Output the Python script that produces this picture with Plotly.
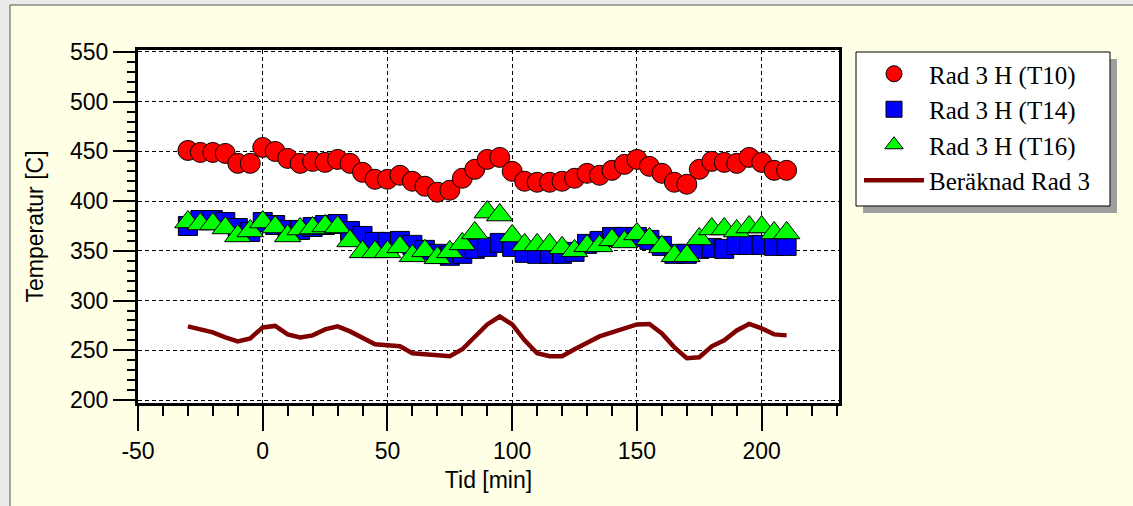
import plotly.graph_objects as go

# ---- data ----
tid = [-30, -25, -20, -15, -10, -5, 0, 5, 10, 15, 20, 25, 30, 35, 40, 45, 50, 55, 60,
       65, 70, 75, 80, 85, 90, 95, 100, 105, 110, 115, 120, 125, 130, 135, 140, 145,
       150, 155, 160, 165, 170, 175, 180, 185, 190, 195, 200, 205, 210]

t10 = [451, 449, 449, 448, 438, 438, 454, 450, 443, 438, 440, 439, 442, 438, 429, 422,
       422, 426, 420, 415, 409, 411, 423, 432, 442, 444, 430, 420, 419, 419, 420, 423,
       428, 426, 431, 437, 442, 435, 428, 419, 417, 432, 440, 439, 438, 444, 439, 431, 431]

t14 = [375, 381, 381, 379, 373, 369, 379, 376, 371, 371, 374, 376, 377, 370, 365, 359,
       359, 360, 356, 351, 347, 345, 347, 352, 354, 358, 354, 348, 347, 347, 347, 349,
       357, 360, 364, 364, 364, 361, 355, 347, 347, 352, 353, 352, 356, 356, 356, 355, 355]

t16 = [379, 377, 377, 373, 365, 370, 379, 374, 365, 372, 373, 375, 374, 360, 349, 349,
       349, 354, 345, 350, 343, 349, 357, 368, 389, 386, 365, 356, 356, 356, 353, 350,
       355, 355, 361, 359, 367, 362, 354, 345, 345, 362, 372, 372, 370, 374, 374, 368, 368]

berakn = [274, 271, 268, 263, 259, 262, 273, 274.5, 266, 263, 265, 271, 274, 269, 262,
          256, 255, 254, 247, 246, 244.5, 244, 251, 263, 276, 284, 276, 260, 247, 244,
          244, 251, 258, 264, 268, 272, 276, 276.5, 267, 253, 242, 243, 254, 260, 270,
          276.5, 272, 266, 265]

names = ["Rad 3 H (T10)", "Rad 3 H (T14)", "Rad 3 H (T16)", "Beräknad Rad 3"]

x_ticks = [-50, 0, 50, 100, 150, 200]
y_ticks = [200, 250, 300, 350, 400, 450, 500, 550]

# ---- layout geometry (pixels) ----
W, H = 1133, 506
L, R, T, B = 138, 294, 50, 103
pw, ph = W - L - R, H - T - B


def px(xp):
    return (xp - L) / pw


def py(yp):
    return (H - B - yp) / ph


fig = go.Figure()

fig.add_trace(go.Scatter(
    x=tid, y=berakn, mode="lines", name=names[3],
    line=dict(color="#800000", width=4.5), legendrank=4))
fig.add_trace(go.Scatter(
    x=tid, y=t10, mode="markers", name=names[0],
    marker=dict(symbol="circle", size=20, color="#FF0000",
                line=dict(color="black", width=1)), legendrank=1))
fig.add_trace(go.Scatter(
    x=tid, y=t14, mode="markers", name=names[1],
    marker=dict(symbol="square", size=19, color="#0000FF",
                line=dict(color="black", width=1)), legendrank=2))
fig.add_trace(go.Scatter(
    x=tid, y=t16, mode="markers", name=names[2],
    marker=dict(symbol="triangle-up", size=23, color="#00FF00",
                line=dict(color="black", width=1)), legendrank=3))

axis_font = dict(family="Liberation Sans, Arial, sans-serif", size=23, color="black")

shapes = [
    # grey outside strips and frame
    dict(type="rect", xref="paper", yref="paper", x0=px(0), x1=px(10), y0=py(H), y1=py(0),
         fillcolor="#EBEBEB", line=dict(width=0), layer="below"),
    dict(type="rect", xref="paper", yref="paper", x0=px(0), x1=px(W), y0=py(5), y1=py(0),
         fillcolor="#EBEBEB", line=dict(width=0), layer="below"),
    dict(type="line", xref="paper", yref="paper", x0=px(10), x1=px(10), y0=py(H), y1=py(5),
         line=dict(color="#505050", width=1)),
    dict(type="line", xref="paper", yref="paper", x0=px(10), x1=px(W), y0=py(5), y1=py(5),
         line=dict(color="#505050", width=1)),
    # legend shadow and box
    dict(type="rect", xref="paper", yref="paper", x0=px(863), x1=px(1117), y0=py(213), y1=py(59),
         fillcolor="#A0A0A0", line=dict(width=0)),
    dict(type="rect", xref="paper", yref="paper", x0=px(856), x1=px(1110), y0=py(206), y1=py(52),
         fillcolor="white", line=dict(color="black", width=1)),
]

fig.update_layout(
    width=W, height=H,
    margin=dict(l=L, r=R, t=T, b=B, autoexpand=False),
    paper_bgcolor="#FFFFE5",
    plot_bgcolor="white",
    showlegend=True,
    legend=dict(
        x=px(859), y=py(51), xanchor="left", yanchor="top",
        bgcolor="rgba(0,0,0,0)", borderwidth=0,
        font=dict(family="Liberation Serif, Times New Roman, serif", size=25, color="black"),
        itemwidth=60, traceorder="normal",
    ),
    shapes=shapes,
    xaxis=dict(
        range=[-50, 231], tickvals=x_ticks, ticktext=[str(v) for v in x_ticks],
        showline=True, linecolor="black", linewidth=3, mirror=True,
        ticks="outside", ticklen=25, tickwidth=2, tickcolor="black",
        minor=dict(dtick=10, tick0=0, ticks="outside", ticklen=10, tickwidth=2,
                   tickcolor="black", showgrid=False),
        showgrid=True, gridcolor="black", gridwidth=1, griddash="4px,3px",
        zeroline=False, tickfont=axis_font,
        title=dict(text="Tid [min]", font=axis_font, standoff=10),
    ),
    yaxis=dict(
        range=[197, 552], tickvals=y_ticks, ticktext=[str(v) for v in y_ticks],
        showline=True, linecolor="black", linewidth=3, mirror=True,
        ticks="outside", ticklen=22, tickwidth=2, tickcolor="black",
        minor=dict(dtick=10, tick0=0, ticks="outside", ticklen=8, tickwidth=2,
                   tickcolor="black", showgrid=False),
        showgrid=True, gridcolor="black", gridwidth=1, griddash="4px,3px",
        zeroline=False, tickfont=axis_font,
        title=dict(text="Temperatur [C]", font=axis_font, standoff=20),
    ),
)

fig.write_html("out.html")
